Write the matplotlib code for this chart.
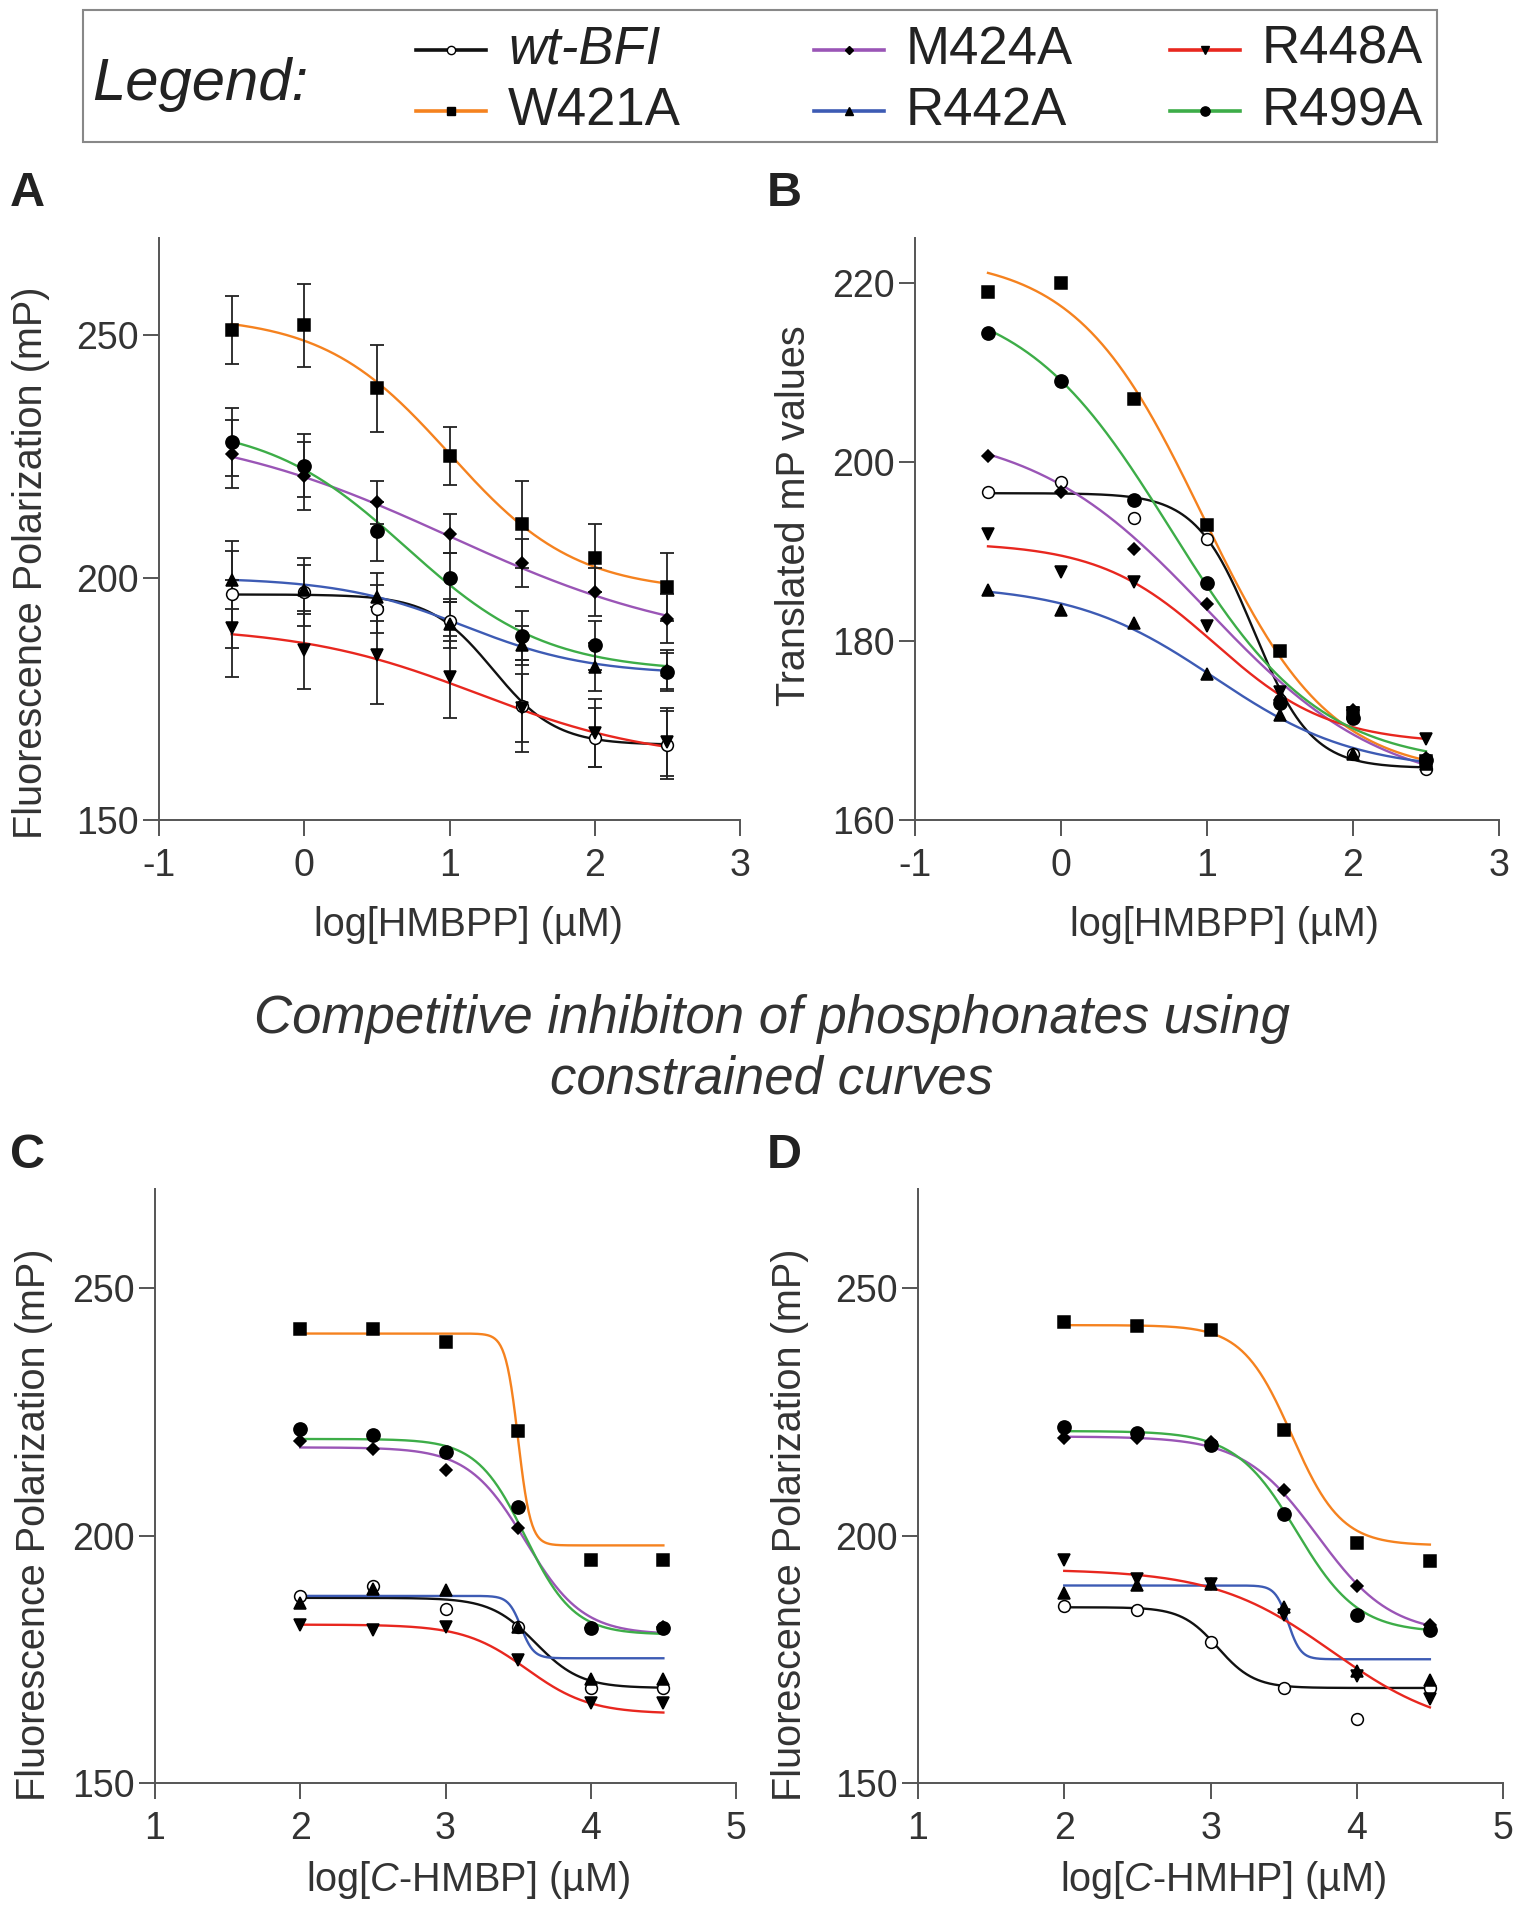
import matplotlib
matplotlib.use("Agg")
import matplotlib.pyplot as plt
import numpy as np
from matplotlib.lines import Line2D
from matplotlib.patches import Rectangle

plt.rcParams['font.family'] = ['Liberation Sans', 'DejaVu Sans']
plt.rcParams['mathtext.fontset'] = 'custom'
plt.rcParams['mathtext.rm'] = 'Liberation Sans'
plt.rcParams['mathtext.it'] = 'Liberation Sans:italic'

# ---- series ----
names = ['wt-BFI', 'W421A', 'M424A', 'R442A', 'R448A', 'R499A']
colors = ['#111111', '#F5821F', '#9A55B6', '#3D5BB4', '#E8271F', '#3DAD48']
markers = ['o', 's', 'D', '^', 'v', 'o']
msizes = [8.5, 9, 6.5, 8.5, 8.5, 9.5]

# ---- panel A: log[HMBPP], mean +/- error ----
xA = [-0.5, 0, 0.5, 1, 1.5, 2, 2.5]
yA = {
    'wt-BFI': [196.5, 197, 193.5, 191, 173.5, 167, 165.5],
    'W421A':  [251, 252, 239, 225, 211, 204, 198],
    'M424A':  [225.5, 221, 215.5, 209, 203, 197, 191.5],
    'R442A':  [199.5, 197.5, 196, 190.5, 186, 181.5, 181],
    'R448A':  [189.5, 185, 184, 179.5, 173, 168, 166],
    'R499A':  [228, 223, 209.5, 200, 188, 186, 180.5],
}
errA = {
    'wt-BFI': [11, 7, 5, 4, 9.5, 6, 7],
    'W421A':  [7, 8.5, 9, 6, 9, 7, 7],
    'M424A':  [7, 7, 4.5, 4, 5, 5, 5],
    'R442A':  [6, 5, 5, 5, 4, 5, 4],
    'R448A':  [10, 8, 10, 8.5, 7, 7, 7],
    'R499A':  [7, 6.5, 6, 5, 5, 5, 4],
}
# fitted curve parameters: top, bottom, logIC50, hill
fitA = {
    'wt-BFI': [196.5, 165.5, 1.3, 2.0],
    'W421A':  [254, 197, 1.0, 1.0],
    'M424A':  [232, 185, 1.0, 0.5],
    'R442A':  [200, 180, 1.1, 1.0],
    'R448A':  [190, 162, 1.2, 0.7],
    'R499A':  [232, 180.5, 0.7, 0.9],
}

# ---- panel B: translated mP values ----
xB = [-0.5, 0, 0.5, 1, 1.5, 2, 2.5]
yB = {
    'wt-BFI': [196.6, 197.7, 193.7, 191.4, 173.4, 167.4, 165.7],
    'W421A':  [219, 220, 207, 193, 178.9, 172, 166.6],
    'M424A':  [200.7, 196.6, 190.3, 184.1, 173.4, 172.3, 166.9],
    'R442A':  [185.7, 183.4, 182, 176.3, 171.7, 167.4, 166.3],
    'R448A':  [191.9, 187.7, 186.6, 181.7, 174.3, 172, 169.1],
    'R499A':  [214.4, 209, 195.7, 186.5, 173.1, 171.4, 166.7],
}
fitB = {
    'wt-BFI': [196.5, 165.8, 1.32, 2.2],
    'W421A':  [223, 165, 0.97, 1.0],
    'M424A':  [204, 163, 1.0, 0.72],
    'R442A':  [186.3, 165.5, 1.05, 0.9],
    'R448A':  [191, 168.5, 1.05, 1.1],
    'R499A':  [219, 166, 0.75, 0.85],
}

# ---- panel C: log[C-HMBP] ----
xC = [2, 2.5, 3, 3.5, 4, 4.5]
yC = {
    'wt-BFI': [187.8, 189.7, 185.1, 181.5, 169.2, 169.2],
    'W421A':  [241.8, 241.8, 239, 221.2, 195, 195],
    'M424A':  [219.1, 217.5, 213.2, 201.6, 181.3, 181.5],
    'R442A':  [186.4, 189.2, 188.9, 181.5, 171, 171],
    'R448A':  [182, 181, 181.5, 174.8, 166.2, 166.2],
    'R499A':  [221.6, 220.3, 216.8, 205.8, 181.3, 181.3],
}
fitC = {
    'wt-BFI': [187.4, 169.2, 3.62, 2.8],
    'W421A':  [240.8, 198, 3.5, 10],
    'M424A':  [217.8, 180, 3.55, 2.2],
    'R442A':  [187.8, 175.2, 3.52, 10],
    'R448A':  [182, 164, 3.56, 2.0],
    'R499A':  [219.5, 180, 3.55, 2.6],
}

# ---- panel D: log[C-HMHP] ----
xD = [2, 2.5, 3, 3.5, 4, 4.5]
yD = {
    'wt-BFI': [185.8, 185, 178.5, 169.2, 163, 169.2],
    'W421A':  [243.1, 242.3, 241.5, 221.3, 198.5, 194.9],
    'M424A':  [219.7, 219.7, 218.9, 209.2, 189.7, 181.9],
    'R442A':  [188.4, 189.9, 190.2, 185.5, 172.6, 170.8],
    'R448A':  [195.1, 191.3, 190.2, 184, 171.6, 166.9],
    'R499A':  [222, 220.8, 218.2, 204.4, 184, 180.9],
}
fitD = {
    'wt-BFI': [185.5, 169.2, 3.05, 3.5],
    'W421A':  [242.5, 198, 3.556, 2.57],
    'M424A':  [220, 180, 3.73, 1.72],
    'R442A':  [189.9, 175, 3.53, 10],
    'R448A':  [193.2, 160, 3.83, 1.08],
    'R499A':  [221.1, 180.4, 3.59, 2.07],
}

W, H = 1515, 1920
TXT = '#333333'
AXC = '#555555'


def fx(x):
    return x / W


def fy(y):
    return 1 - y / H


def logistic(x, top, bottom, logec50, hill):
    return bottom + (top - bottom) / (1 + 10 ** ((x - logec50) * hill))


def setup(ax, xlim, xticks, ylim, yticks):
    ax.set_xlim(*xlim)
    ax.set_ylim(*ylim)
    ax.set_xticks(xticks)
    ax.set_yticks(yticks)
    ax.set_xticklabels([str(t) for t in xticks])
    for s in ['top', 'right']:
        ax.spines[s].set_visible(False)
    for s in ['left', 'bottom']:
        ax.spines[s].set_color(AXC)
        ax.spines[s].set_linewidth(1.4)
    ax.tick_params(direction='out', length=11.5, width=1.4, color=AXC,
                   labelsize=27, labelcolor=TXT)
    ax.tick_params(axis='x', pad=9)
    ax.tick_params(axis='y', pad=3)
    ax.patch.set_alpha(0)


def draw(ax, xs, ys, fits, errs=None):
    xx = np.linspace(min(xs), max(xs), 400)
    for i, n in enumerate(names):
        ax.plot(xx, logistic(xx, *fits[n]), color=colors[i], lw=1.7, zorder=2)
    if errs is not None:
        for i, n in enumerate(names):
            ax.errorbar(xs, ys[n], yerr=errs[n], fmt='none', ecolor='#222222',
                        elinewidth=1.3, capsize=5, capthick=1.3, zorder=2.5)
    for i, n in enumerate(names):
        face = 'white' if n == 'wt-BFI' else 'black'
        ax.plot(xs, ys[n], ls='none', marker=markers[i], ms=msizes[i],
                mfc=face, mec='black', mew=1.1, zorder=3, clip_on=False)


fig = plt.figure(figsize=(W / 100, H / 100), dpi=100)

axA = fig.add_axes([fx(159), fy(820), (740 - 159) / W, (820 - 238) / H])
axB = fig.add_axes([fx(915), fy(820), (1499 - 915) / W, (820 - 238) / H])
axC = fig.add_axes([fx(155), fy(1783), (736 - 155) / W, (1783 - 1189) / H])
axD = fig.add_axes([fx(918), fy(1783), (1503 - 918) / W, (1783 - 1189) / H])

setup(axA, (-1, 3), [-1, 0, 1, 2, 3], (150, 270), [150, 200, 250])
setup(axB, (-1, 3), [-1, 0, 1, 2, 3], (160, 225), [160, 180, 200, 220])
setup(axC, (1, 5), [1, 2, 3, 4, 5], (150, 270), [150, 200, 250])
setup(axD, (1, 5), [1, 2, 3, 4, 5], (150, 270), [150, 200, 250])

draw(axA, xA, yA, fitA, errA)
draw(axB, xB, yB, fitB)
draw(axC, xC, yC, fitC)
draw(axD, xD, yD, fitD)

# axis labels
lab = dict(fontsize=28.5, color=TXT, ha='center', va='center')
fig.text(fx(31), fy(563), 'Fluorescence Polarization (mP)', rotation=90, **lab)
fig.text(fx(794), fy(516), 'Translated mP values', rotation=90, **lab)
fig.text(fx(34), fy(1525), 'Fluorescence Polarization (mP)', rotation=90, **lab)
fig.text(fx(790), fy(1525), 'Fluorescence Polarization (mP)', rotation=90, **lab)
fig.text(fx(469), fy(925), 'log[HMBPP] (µM)', **lab)
fig.text(fx(1225), fy(925), 'log[HMBPP] (µM)', **lab)
fig.text(fx(468), fy(1880), r'log[$\mathit{C}$-HMBP] (µM)', **lab)
fig.text(fx(1223), fy(1880), r'log[$\mathit{C}$-HMHP] (µM)', **lab)

# panel letters
for letter, x, y in [('A', 10, 193), ('B', 767, 193), ('C', 10, 1155), ('D', 767, 1155)]:
    fig.text(fx(x), fy(y), letter, fontsize=35, fontweight='bold', color='#222222',
             ha='left', va='center')

# middle title
fig.text(fx(772), fy(1019), 'Competitive inhibiton of phosphonates using',
         fontsize=38, style='italic', color=TXT, ha='center', va='center')
fig.text(fx(772), fy(1080), 'constrained curves',
         fontsize=38, style='italic', color=TXT, ha='center', va='center')

# legend box
fig.patches.append(Rectangle((fx(83), fy(142)), (1437 - 83) / W, (142 - 10) / H,
                             transform=fig.transFigure, fill=False,
                             edgecolor='#888888', lw=1.5))
fig.text(fx(92), fy(84), 'Legend:', fontsize=43, style='italic', color='#222222',
         ha='left', va='center')
spots = [(416, 50), (416, 111), (814, 50), (814, 111), (1170, 50), (1170, 111)]
for i, n in enumerate(names):
    x0, y0 = spots[i]
    fig.add_artist(Line2D([fx(x0), fx(x0 + 70)], [fy(y0), fy(y0)],
                          transform=fig.transFigure, color=colors[i], lw=2.6))
    face = 'white' if n == 'wt-BFI' else 'black'
    fig.add_artist(Line2D([fx(x0 + 35)], [fy(y0)], transform=fig.transFigure,
                          ls='none', marker=markers[i], ms=msizes[i] * 0.7,
                          mfc=face, mec='black', mew=1.0))
    fig.text(fx(x0 + 92), fy(y0), n, fontsize=38, color='#222222',
             style='italic' if n == 'wt-BFI' else 'normal', ha='left', va='center')

fig.savefig('out.png', dpi=100, facecolor='white')
